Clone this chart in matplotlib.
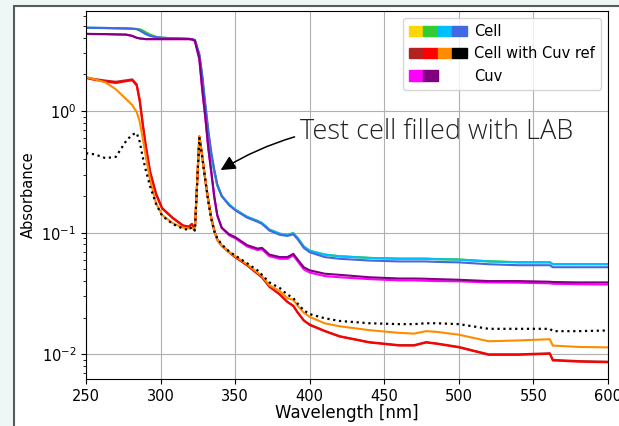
#!/usr/bin/env python3
"""
Absorbance spectra of the test cell, the cuvette and the cell measured
against the cuvette reference. Log y-axis, legend with colour strips.
"""

import matplotlib

matplotlib.use("Agg")

import matplotlib.pyplot as plt
from matplotlib.legend_handler import HandlerTuple
from matplotlib.patches import Patch, Rectangle

# wavelength grid shared by every spectrum (nm)
wl = [250, 256, 263, 270, 277, 281, 284, 286, 288, 290,
      293, 297, 301, 308, 315, 319, 321, 323, 326, 328,
      330, 332, 334, 336, 338, 341, 346, 350, 358, 365,
      368, 373, 380, 385, 389, 392, 396, 400, 410, 420,
      440, 460, 470, 478, 485, 500, 520, 540, 561, 563,
      580, 600]

# --- Cell (4 repeats) ---
cell_gold = [4.82, 4.81, 4.80, 4.78, 4.76, 4.73, 4.70, 4.68, 4.58, 4.42,
             4.22, 4.06, 4.00, 3.97, 3.94, 3.92, 3.90, 3.82, 2.85, 1.85,
             1.08, 0.65, 0.43, 0.32, 0.245, 0.20, 0.17, 0.155, 0.135, 0.125,
             0.120, 0.106, 0.098, 0.096, 0.099, 0.090, 0.077, 0.071, 0.066, 0.064,
             0.062, 0.061, 0.061, 0.061, 0.0605, 0.060, 0.058, 0.057, 0.057, 0.055,
             0.055, 0.055]
cell_green = [4.83, 4.82, 4.81, 4.79, 4.77, 4.74, 4.72, 4.70, 4.60, 4.45,
              4.25, 4.07, 4.00, 3.97, 3.94, 3.92, 3.90, 3.82, 2.85, 1.85,
              1.08, 0.65, 0.43, 0.32, 0.245, 0.20, 0.17, 0.155, 0.135, 0.125,
              0.120, 0.106, 0.098, 0.096, 0.099, 0.090, 0.077, 0.071, 0.066, 0.064,
              0.062, 0.0612, 0.0612, 0.0612, 0.0607, 0.0602, 0.0582, 0.0572, 0.0572, 0.0552,
              0.0552, 0.0552]
cell_sky = [4.84, 4.83, 4.82, 4.80, 4.78, 4.75, 4.72, 4.60, 4.45, 4.30,
            4.15, 4.05, 4.00, 3.97, 3.94, 3.92, 3.90, 3.82, 2.85, 1.85,
            1.08, 0.65, 0.43, 0.32, 0.245, 0.20, 0.17, 0.155, 0.135, 0.125,
            0.120, 0.106, 0.098, 0.096, 0.099, 0.090, 0.077, 0.071, 0.066, 0.064,
            0.062, 0.061, 0.061, 0.061, 0.0605, 0.060, 0.058, 0.057, 0.057, 0.055,
            0.055, 0.055]
cell_blue = [4.84, 4.83, 4.82, 4.80, 4.78, 4.75, 4.72, 4.60, 4.45, 4.30,
             4.15, 4.05, 4.00, 3.97, 3.94, 3.92, 3.90, 3.84, 2.95, 1.95,
             1.15, 0.70, 0.46, 0.33, 0.25, 0.20, 0.168, 0.153, 0.133, 0.123,
             0.118, 0.104, 0.096, 0.094, 0.097, 0.088, 0.075, 0.069, 0.063, 0.061,
             0.059, 0.058, 0.058, 0.058, 0.0575, 0.057, 0.055, 0.054, 0.054, 0.052,
             0.052, 0.052]

# --- Cell measured with the cuvette as reference ---
ref_firebrick = [1.89, 1.83, 1.78, 1.74, 1.79, 1.82, 1.66, 1.25, 0.80, 0.53,
                 0.32, 0.21, 0.160, 0.133, 0.115, 0.112, 0.118, 0.106, 0.61, 0.42,
                 0.27, 0.185, 0.132, 0.104, 0.088, 0.078, 0.069, 0.063, 0.054, 0.046,
                 0.043, 0.036, 0.031, 0.027, 0.025, 0.022, 0.019, 0.0176, 0.0156, 0.0141,
                 0.0126, 0.0119, 0.0119, 0.0126, 0.0123, 0.0115, 0.0100, 0.0100, 0.0102, 0.0090,
                 0.0088, 0.0087]
ref_red = [1.87, 1.80, 1.75, 1.70, 1.76, 1.79, 1.62, 1.20, 0.78, 0.52,
           0.31, 0.205, 0.158, 0.132, 0.114, 0.112, 0.118, 0.106, 0.62, 0.42,
           0.27, 0.185, 0.132, 0.104, 0.088, 0.078, 0.069, 0.063, 0.054, 0.046,
           0.043, 0.036, 0.031, 0.027, 0.025, 0.022, 0.019, 0.0174, 0.0155, 0.0140,
           0.0125, 0.0118, 0.0118, 0.0125, 0.0122, 0.0114, 0.0099, 0.0099, 0.0101, 0.0089,
           0.0087, 0.0086]
ref_orange = [1.90, 1.82, 1.72, 1.51, 1.25, 1.12, 0.98, 0.82, 0.60, 0.43,
              0.27, 0.174, 0.140, 0.120, 0.110, 0.108, 0.110, 0.105, 0.62, 0.42,
              0.27, 0.183, 0.131, 0.103, 0.088, 0.078, 0.069, 0.064, 0.055, 0.047,
              0.044, 0.037, 0.033, 0.029, 0.028, 0.025, 0.022, 0.0203, 0.0180, 0.0170,
              0.0158, 0.0150, 0.0148, 0.0155, 0.0153, 0.0145, 0.0128, 0.0130, 0.0133, 0.0118,
              0.0115, 0.0114]
ref_black = [0.45, 0.44, 0.41, 0.42, 0.57, 0.64, 0.66, 0.56, 0.42, 0.33,
             0.24, 0.172, 0.138, 0.118, 0.108, 0.105, 0.112, 0.104, 0.60, 0.41,
             0.27, 0.18, 0.13, 0.103, 0.090, 0.080, 0.070, 0.065, 0.056, 0.049,
             0.045, 0.039, 0.035, 0.031, 0.029, 0.026, 0.023, 0.0214, 0.0198, 0.0188,
             0.0180, 0.0177, 0.0177, 0.0180, 0.0180, 0.0177, 0.0162, 0.0162, 0.0162, 0.0155,
             0.0155, 0.0157]

# --- Cuvette alone ---
cuv_magenta = [4.30, 4.29, 4.28, 4.26, 4.24, 4.14, 4.00, 3.95, 3.93, 3.90,
               3.90, 3.90, 3.90, 3.90, 3.90, 3.90, 3.88, 3.78, 2.65, 1.45,
               0.88, 0.49, 0.31, 0.195, 0.138, 0.109, 0.095, 0.090, 0.077, 0.072,
               0.073, 0.064, 0.061, 0.061, 0.065, 0.058, 0.050, 0.047, 0.044, 0.043,
               0.0415, 0.0405, 0.0405, 0.0402, 0.0400, 0.0398, 0.0390, 0.0388, 0.0383, 0.0380,
               0.0377, 0.0375]
cuv_purple = [4.31, 4.30, 4.29, 4.27, 4.25, 4.15, 4.00, 3.95, 3.93, 3.90,
              3.90, 3.90, 3.90, 3.90, 3.90, 3.90, 3.88, 3.78, 2.70, 1.50,
              0.90, 0.50, 0.32, 0.200, 0.140, 0.110, 0.097, 0.092, 0.079, 0.074,
              0.075, 0.066, 0.063, 0.063, 0.067, 0.060, 0.052, 0.049, 0.046, 0.045,
              0.043, 0.042, 0.042, 0.0418, 0.0415, 0.041, 0.040, 0.040, 0.0395, 0.0393,
              0.039, 0.039]

CELL_COLOURS = ["gold", "limegreen", "deepskyblue", "royalblue"]
REF_COLOURS = ["firebrick", "red", "darkorange", "black"]
CUV_COLOURS = ["magenta", "purple"]


def main():
    plt.rcParams["font.size"] = 10.5

    fig = plt.figure(figsize=(6.19, 4.26), dpi=100, facecolor="#eef6f6")
    # white page with a dark frame, cut by the screenshot on the right/bottom
    fig.patches.append(Rectangle((14 / 619, -0.05), 1.1, 1 - 6 / 426 + 0.05,
                                 transform=fig.transFigure, facecolor="white",
                                 edgecolor="#5a5a5a", linewidth=1.5, zorder=-10))

    ax = fig.add_axes([86 / 619, 1 - 379 / 426, (608 - 86) / 619, (379 - 11) / 426])

    for vals, col in zip([cell_gold, cell_green, cell_sky, cell_blue], CELL_COLOURS):
        ax.plot(wl, vals, color=col, lw=1.5)
    for vals, col in zip([cuv_magenta, cuv_purple], CUV_COLOURS):
        ax.plot(wl, vals, color=col, lw=1.5)
    for vals, col in zip([ref_firebrick, ref_red, ref_orange], REF_COLOURS[:3]):
        ax.plot(wl, vals, color=col, lw=1.5)
    ax.plot(wl, ref_black, color="black", ls=":", lw=1.6)

    ax.set_yscale("log")
    ax.set_xlim(250, 600)
    ax.set_xlabel("Wavelength [nm]", fontsize=12, labelpad=0)
    ax.set_ylabel("Absorbance")
    ax.grid(True, which="major")

    ax.annotate("Test cell filled with LAB", xy=(338.7, 0.318), xytext=(393.5, 0.67),
                va="center", ha="left", fontsize=19.5, color="#222222",
                fontfamily="Open Sans", fontweight="light",
                arrowprops=dict(arrowstyle="-|>", color="black", lw=1.1,
                                mutation_scale=22,
                                connectionstyle="arc3,rad=0.2"))

    handles = [
        tuple(Patch(color=c) for c in CELL_COLOURS),
        tuple(Patch(color=c) for c in REF_COLOURS),
        tuple(Patch(color=c) for c in CUV_COLOURS),
    ]
    labels = ["Cell", "Cell with Cuv ref", "Cuv"]
    ax.legend(handles, labels, loc="upper right", handlelength=4.0,
              handletextpad=0.5,
              handler_map={tuple: HandlerTuple(ndivide=4, pad=0)})

    fig.savefig("out.png", dpi=100, facecolor=fig.get_facecolor())
    plt.close(fig)


if __name__ == "__main__":
    main()
